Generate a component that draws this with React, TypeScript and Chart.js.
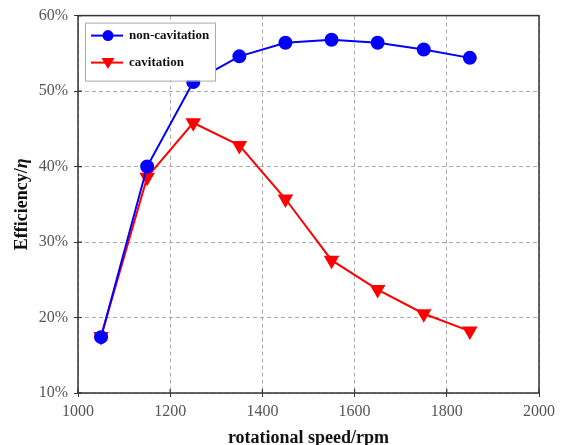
import React, { useEffect, useRef } from "react";
import { Chart, registerables } from "chart.js";

Chart.register(...registerables);

const speeds = [1050, 1150, 1250, 1350, 1450, 1550, 1650, 1750, 1850];
const nonCavitation = [17.4, 40.0, 51.2, 54.6, 56.4, 56.8, 56.4, 55.5, 54.4];
const cavitation = [17.5, 38.6, 45.8, 42.8, 35.7, 27.6, 23.7, 20.5, 18.2];
const xTicks = [1000, 1200, 1400, 1600, 1800, 2000];
const yTicks = [10, 20, 30, 40, 50, 60];

const seriesNames = ["non-cavitation", "cavitation"];
const seriesColors = ["#0000ff", "#ff0000"];

const SERIF = "'Liberation Serif', 'DejaVu Serif', serif";

// Frame around the plot, inward tick stubs, the in-plot legend and the y title with italic η
const decorations = {
  id: "decorations",
  afterDraw(chart: any) {
    const { ctx, chartArea, scales } = chart;
    const { left, right, top, bottom } = chartArea;
    ctx.save();
    ctx.strokeStyle = "#333";
    ctx.lineWidth = 1.5;
    ctx.strokeRect(left, top, right - left, bottom - top);

    // tick stubs crossing into the plot
    ctx.lineWidth = 1.2;
    ctx.beginPath();
    xTicks.forEach((v) => {
      const x = scales.x.getPixelForValue(v);
      ctx.moveTo(x, bottom);
      ctx.lineTo(x, bottom - 4);
    });
    yTicks.forEach((v) => {
      const y = scales.y.getPixelForValue(v);
      ctx.moveTo(left, y);
      ctx.lineTo(left + 4, y);
    });
    ctx.stroke();

    // legend
    const lx = left + 7, ly = top + 7, lw = 130, lh = 58;
    ctx.fillStyle = "#fff";
    ctx.fillRect(lx, ly, lw, lh);
    ctx.strokeStyle = "#aaa";
    ctx.lineWidth = 1;
    ctx.strokeRect(lx + 0.5, ly + 0.5, lw, lh);
    seriesNames.forEach((name, i) => {
      const y = ly + 13 + i * 27;
      ctx.strokeStyle = seriesColors[i];
      ctx.lineWidth = 2;
      ctx.beginPath();
      ctx.moveTo(lx + 6, y);
      ctx.lineTo(lx + 38, y);
      ctx.stroke();
      ctx.fillStyle = seriesColors[i];
      const cx = lx + 23;
      ctx.beginPath();
      if (i === 0) {
        ctx.arc(cx, y, 5.5, 0, Math.PI * 2);
      } else {
        ctx.moveTo(cx - 6.5, y - 4.5);
        ctx.lineTo(cx + 6.5, y - 4.5);
        ctx.lineTo(cx, y + 6.5);
        ctx.closePath();
      }
      ctx.fill();
      ctx.fillStyle = "#111";
      ctx.font = `bold 13px ${SERIF}`;
      ctx.textBaseline = "middle";
      ctx.textAlign = "left";
      ctx.fillText(name, lx + 44, y);
    });

    // y axis title
    ctx.translate(22, (top + bottom) / 2);
    ctx.rotate(-Math.PI / 2);
    ctx.fillStyle = "#111";
    ctx.textBaseline = "middle";
    const a = "Efficiency/";
    const b = "η";
    ctx.font = `bold 18px ${SERIF}`;
    const wa = ctx.measureText(a).width;
    ctx.font = `italic bold 18px ${SERIF}`;
    const wb = ctx.measureText(b).width;
    const start = -(wa + wb) / 2;
    ctx.font = `bold 18px ${SERIF}`;
    ctx.textAlign = "left";
    ctx.fillText(a, start, 0);
    ctx.font = `italic bold 18px ${SERIF}`;
    ctx.fillText(b, start + wa, 0);
    ctx.restore();
  },
};

export default function App() {
  const ref = useRef<HTMLCanvasElement>(null);

  useEffect(() => {
    document.body.style.margin = "0";
    const canvas = ref.current!;
    const chart = new Chart(canvas, {
      type: "line",
      data: {
        datasets: [
          {
            label: seriesNames[0],
            data: speeds.map((s, i) => ({ x: s, y: nonCavitation[i] })),
            borderColor: seriesColors[0],
            backgroundColor: seriesColors[0],
            borderWidth: 2,
            pointRadius: 6,
            pointStyle: "circle",
          },
          {
            label: seriesNames[1],
            data: speeds.map((s, i) => ({ x: s, y: cavitation[i] })),
            borderColor: seriesColors[1],
            backgroundColor: seriesColors[1],
            borderWidth: 2,
            pointRadius: 7,
            pointStyle: "triangle",
            rotation: 180,
          },
        ],
      },
      options: {
        animation: false,
        responsive: false,
        layout: { padding: { top: 15, right: 24, left: 0, bottom: 0 } },
        plugins: {
          legend: { display: false },
          tooltip: { enabled: false },
        },
        scales: {
          x: {
            type: "linear",
            min: 1000,
            max: 2000,
            afterBuildTicks: (axis: any) => {
              axis.ticks = xTicks.map((v) => ({ value: v }));
            },
            afterFit: (axis: any) => {
              axis.height = 52;
            },
            grid: {
              color: "#aaa",
              tickLength: 4,
              tickColor: "#333",
            },
            border: { display: false, dash: [4, 3] },
            ticks: {
              color: "#555",
              font: { family: SERIF, size: 16 },
              padding: 5,
              maxRotation: 0,
              callback: (v: any) => String(v),
            },
            title: {
              display: true,
              text: "rotational speed/rpm",
              color: "#111",
              font: { family: SERIF, size: 18, weight: "bold" },
              padding: { top: 0, bottom: -4 },
            },
          },
          y: {
            type: "linear",
            min: 10,
            max: 60,
            afterBuildTicks: (axis: any) => {
              axis.ticks = yTicks.map((v) => ({ value: v }));
            },
            afterFit: (axis: any) => {
              axis.width = 78;
            },
            grid: {
              color: "#aaa",
              tickLength: 4,
              tickColor: "#333",
            },
            border: { display: false, dash: [4, 3] },
            ticks: {
              color: "#555",
              font: { family: SERIF, size: 16 },
              padding: 6,
              callback: (v: any) => `${v}%`,
            },
          },
        },
      },
      plugins: [decorations],
    });
    return () => chart.destroy();
  }, []);

  return (
    <div style={{ width: 563, height: 445 }}>
      <canvas ref={ref} width={563} height={445} style={{ display: "block" }} />
    </div>
  );
}
